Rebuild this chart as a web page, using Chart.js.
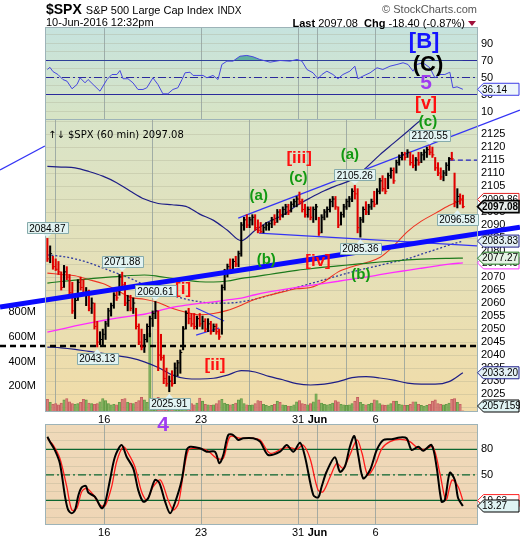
<!DOCTYPE html>
<html>
<head>
<meta charset="utf-8">
<script src="https://cdn.jsdelivr.net/npm/chart.js@4.4.1/dist/chart.umd.min.js"></script>
<style>
  body { margin: 0; background: #fff; width: 520px; height: 540px; overflow: hidden; position: relative; }
  canvas { position: absolute; left: 0; top: 0; }
</style>
</head>
<body>
<canvas id="stoch" width="520" height="540"></canvas>
<canvas id="rsi" width="520" height="540"></canvas>
<canvas id="main" width="520" height="540"></canvas>
<script>
// оси и подписи
const dayTicks = [20.5, 55.5, 90.5, 97.5, 118.5];
const dayLabels = ['16', '23', '31', 'Jun', '6'];
const priceTicks = [2020, 2025, 2030, 2035, 2040, 2045, 2050, 2055, 2060, 2065, 2070, 2075,
  2080, 2085, 2090, 2095, 2100, 2105, 2110, 2115, 2120, 2125, 2130];
const volTicks = [200, 400, 600, 800];
const oscTicks = [0, 10, 20, 30, 40, 50, 60, 70, 80, 90, 100];

// часовые бары $SPX, 11 мая - 10 июня
const highs = [2084.87, 2082, 2078, 2077, 2076, 2072, 2074.5, 2074, 2071, 2068, 2062, 2069, 2070, 2069,
  2066, 2065, 2062, 2060, 2053, 2049, 2050, 2053, 2058, 2060, 2064, 2066, 2071, 2071.88,
  2068, 2063, 2063, 2062, 2058, 2052, 2050, 2048, 2052, 2055, 2057, 2060.61, 2057, 2048,
  2040, 2035, 2032, 2034, 2037, 2038, 2042, 2051, 2057, 2058, 2056, 2056, 2055, 2056,
  2055, 2054, 2054, 2053, 2052, 2052, 2050, 2067, 2073, 2075, 2077, 2077, 2078, 2080,
  2091, 2093, 2094, 2093, 2094, 2094, 2092, 2091, 2090, 2091, 2091, 2093, 2094, 2096,
  2096, 2097, 2098, 2098, 2099, 2100, 2101, 2102.7, 2100, 2098, 2097, 2097, 2097, 2098,
  2093, 2094, 2096, 2097, 2100, 2101, 2101, 2097, 2095, 2098, 2100, 2101, 2104, 2105.26,
  2104, 2093, 2097, 2099, 2098, 2100, 2103, 2104, 2108, 2109, 2108, 2110, 2112, 2112,
  2115, 2117, 2118, 2118, 2119, 2118, 2117, 2116, 2118, 2118, 2119, 2120, 2120.55, 2120,
  2116, 2114, 2112, 2111, 2114, 2116, 2118, 2110, 2104, 2102, 2101.5];
const lows = [2076, 2075.5, 2073, 2072.5, 2071, 2065, 2066, 2069, 2063, 2056, 2054, 2061, 2065, 2063,
  2059, 2057, 2056, 2050, 2043.13, 2044, 2044, 2046, 2051, 2055, 2058, 2061, 2063, 2066,
  2059, 2057, 2057, 2056, 2050, 2044, 2042, 2041, 2045, 2047, 2051, 2054, 2034, 2038,
  2029, 2028, 2025.91, 2028, 2029, 2032, 2033, 2042, 2050, 2052, 2051, 2050, 2050, 2051,
  2050, 2049, 2049, 2048, 2049, 2048, 2046, 2048, 2065, 2070, 2072, 2072, 2074, 2074,
  2078, 2088, 2089, 2089, 2090, 2088, 2087, 2087, 2087, 2088, 2088, 2089, 2090, 2091,
  2092, 2093, 2094, 2094, 2095, 2097, 2097, 2098, 2095, 2093, 2093, 2092, 2091, 2092,
  2086, 2087, 2092, 2093, 2095, 2097, 2096, 2089, 2090, 2093, 2096, 2097, 2099, 2100,
  2087, 2085.36, 2091, 2094, 2094, 2096, 2097, 2098, 2102, 2103, 2102, 2104, 2108, 2106,
  2110, 2113, 2115, 2115, 2116, 2113, 2112, 2111, 2113, 2114, 2115, 2116, 2117, 2116,
  2111, 2109, 2107.5, 2107, 2109, 2111, 2115, 2097, 2096.58, 2098, 2096.6];
const closes = [2077, 2079, 2074, 2073, 2072, 2066, 2072, 2070, 2064, 2057, 2061, 2068, 2066, 2064,
  2064.5, 2058, 2060, 2051, 2045, 2046, 2048, 2052, 2057, 2059, 2063, 2062, 2070, 2067,
  2060, 2061, 2058, 2060, 2051, 2045, 2043, 2046, 2051, 2054, 2056, 2057, 2040, 2039,
  2031, 2029, 2030, 2029, 2035, 2037, 2041, 2050, 2056, 2054, 2052, 2051, 2054, 2052,
  2053, 2050, 2052, 2049, 2051, 2049, 2047, 2066, 2072, 2074, 2073, 2076, 2075, 2079,
  2090, 2092, 2090, 2092, 2093, 2089, 2088, 2087.5, 2089, 2090, 2090.5, 2092, 2091, 2095,
  2094, 2096, 2097, 2095, 2098, 2099, 2100, 2099, 2096, 2094, 2096, 2093, 2096, 2097,
  2087, 2093, 2095, 2096, 2099, 2100, 2097, 2090, 2094, 2097, 2099, 2100, 2103, 2102,
  2089, 2092, 2096, 2095, 2097, 2099, 2098, 2103, 2107, 2104, 2103, 2109, 2111, 2107,
  2114, 2116, 2117, 2116, 2118, 2114, 2113, 2115, 2114, 2117, 2118, 2119, 2118, 2117,
  2112, 2110, 2108.5, 2110, 2113, 2115.5, 2115.48, 2099, 2101, 2100, 2097.08];
// объём, млн
const volumes = [95, 70, 55, 60, 50, 65, 90, 100, 75, 60, 55, 60, 70, 95,
  90, 65, 60, 55, 60, 75, 100, 85, 60, 50, 55, 50, 70, 95,
  100, 70, 65, 60, 70, 85, 110, 90, 70, 630, 65, 60, 110, 100,
  95, 75, 65, 60, 55, 70, 100, 90, 65, 55, 60, 50, 65, 105,
  80, 55, 50, 45, 50, 60, 85, 95, 65, 55, 50, 55, 65, 90,
  100, 60, 50, 45, 50, 60, 85, 80, 55, 45, 40, 45, 55, 80,
  70, 50, 45, 40, 40, 50, 75, 85, 60, 55, 50, 60, 75, 140,
  90, 65, 55, 50, 55, 65, 85, 75, 55, 50, 45, 50, 60, 80,
  110, 70, 55, 50, 55, 65, 90, 85, 60, 50, 45, 50, 60, 80,
  80, 55, 50, 45, 45, 55, 75, 75, 55, 45, 40, 45, 55, 80,
  90, 60, 55, 50, 55, 65, 95, 100, 70, 55, 2.057159];

// скользящие и полосы, снятые каждые 5 баров
const maIdx = [0, 5, 10, 15, 20, 25, 30, 35, 40, 45, 50, 55, 60, 65, 70, 75, 80, 85, 90, 95,
  100, 105, 110, 115, 120, 125, 130, 135, 140, 145, 150];
const upperBand = [2112.6, 2112.3, 2112, 2110.6, 2108.8, 2106.3, 2103, 2100, 2098.3, 2097.8, 2097.2,
  2094.2, 2091.8, 2088, 2084, 2088, 2091.4, 2093.8, 2097.5, 2100.5, 2103.2, 2105.4, 2107.5,
  2112, 2117, 2121.5, 2126, 2130.5, 2134, 2137, 2139];
const midBand = [2078.5, 2078, 2077, 2075.5, 2073.5, 2071.5, 2069.5, 2067, 2065, 2063, 2061.5,
  2060.5, 2060, 2060, 2060.5, 2061.5, 2063, 2064.5, 2066, 2067.5, 2069, 2070.5, 2072, 2073.3,
  2074.5, 2075.8, 2077, 2078.8, 2080.5, 2082.3, 2083.83];
const lowerBand = [2043.1, 2042.8, 2042.2, 2041.4, 2040.7, 2039.8, 2038.9, 2037.4, 2035.2, 2032.4,
  2031, 2030.8, 2031.1, 2032.3, 2034, 2033.5, 2031.8, 2030.5, 2029, 2028.5, 2028.8, 2029.8,
  2031.3, 2031.7, 2031.2, 2030.4, 2029.2, 2028.8, 2028.8, 2029.8, 2033.2];
const redMA = [2071.5, 2071, 2070.5, 2069, 2067.5, 2065, 2062.2, 2061.5, 2060.2, 2058, 2056.5,
  2055.5, 2056, 2057.2, 2059.2, 2061.5, 2063, 2064.3, 2065.5, 2066, 2068.3, 2072, 2074,
  2075.5, 2077.5, 2082, 2087.5, 2091.5, 2094.5, 2097.5, 2099.86];
const greenMA = [2067.7, 2068.3, 2068.8, 2069.3, 2069.8, 2070.2, 2070.6, 2070.8, 2070.3, 2069.5,
  2068.8, 2068.2, 2068.1, 2068.5, 2069.5, 2070.2, 2071, 2071.8, 2072.6, 2073.2, 2073.8, 2074.3,
  2074.8, 2075.3, 2075.8, 2076.2, 2076.6, 2076.9, 2077.1, 2077.2, 2077.27];
const pinkMA = [2048.8, 2050, 2051.2, 2052.3, 2053.3, 2054.2, 2055, 2055.7, 2057, 2058.3, 2059.2,
  2059.9, 2060.5, 2061.2, 2061.9, 2063.2, 2064.3, 2065.2, 2066, 2066.8, 2067.6, 2068.4, 2069.2,
  2070, 2070.9, 2071.8, 2072.6, 2073.4, 2074.2, 2075, 2075.45];

// трендовые линии: [бар, цена]
const thickLine = [[-17.1, 2058.5], [170.6, 2089.2]];
const upperChannel = [[68.9, 2092.7], [170.6, 2134.2]];
const lowerChannel = [[76.4, 2086.9], [170.6, 2081.0]];
const leftLine = [[-17.1, 2111.2], [-0.9, 2120.4]];
const wedgeTop = [[53.7, 2058.1], [63.8, 2053.1]];
const wedgeBottom = [[53.7, 2047.7], [62, 2050.4]];
const supportLine = [[-17.1, 2043.5], [155.1, 2043.5]];
const resistLine = [[145.3, 2115], [155.1, 2115]];

// экстремумы с выносками: [бар, 'high' | 'low']
const peaks = [[0, 'high'], [27, 'high'], [39, 'high'], [18, 'low'], [44, 'low'],
  [111, 'high'], [138, 'high'], [113, 'low'], [148, 'low']];

// RSI(14): [бар, значение]
const rsi = [[0, 59.4], [0.9, 62], [2, 57], [3.8, 53.5], [5.6, 47.6], [7.1, 45.6], [8.9, 36.7],
  [10.7, 41.8], [11.8, 49.6], [13.6, 43.7], [14.7, 47.6], [16.5, 41.8], [19, 33.9], [21.5, 47.6],
  [23.3, 53.5], [25.1, 53.5], [26.2, 58.2], [27.3, 48.5], [29.1, 48.5], [30.9, 43.7], [32.7, 35.9],
  [34.5, 35.9], [35.9, 37.9], [38.1, 49.6], [39.9, 41.8], [41.7, 30.8], [43.5, 30.8], [45.3, 35.9],
  [47.1, 37.9], [48.6, 47.6], [49.7, 55.5], [51.5, 56.2], [52.6, 52.4], [54, 52.4], [56.2, 52.4],
  [57.6, 49.6], [59.8, 52.4], [61.6, 47.6], [63, 65.3], [64.8, 69.2], [67, 69.2], [69.5, 75],
  [72, 75.9], [74.2, 74.4], [76.7, 71.2], [80.4, 68], [84, 70], [87.6, 69.2], [90.1, 71.2],
  [91.9, 69.2], [93.7, 59.4], [95.9, 55.5], [97.7, 48.5], [99.1, 53.5], [100.9, 57.4], [103.1, 53.5],
  [104.9, 48.5], [106.7, 53.5], [109.2, 57.4], [111, 63.3], [112.1, 48.5], [113.9, 51.6], [116.5, 55.5],
  [119, 61.4], [121.1, 59.4], [123.7, 63.3], [126.2, 65.3], [128.4, 67.3], [130.2, 65.3], [132, 57.4],
  [133.4, 65.3], [135.6, 67.3], [138.1, 61.4], [139.9, 49.6], [141.7, 53.5], [143.5, 53.5],
  [145.3, 56.2], [146.4, 37.9], [147.9, 39], [150, 36.14]];

// стохастик %K (чёрный) и %D (красный)
const stochK = [[0, 94.8], [0.9, 89], [2.7, 79], [4.5, 63.5], [6.4, 24], [7.5, 8.6], [8.8, 4.7], [10, 8.6],
  [11.2, 26], [12.4, 35.3], [13.9, 36.8], [14.8, 29], [17.2, 24], [19.6, 10.6], [20.8, 16.5],
  [22.6, 43.9], [24.4, 71.3], [26.8, 85], [28.6, 71.3], [31, 57.6], [32.8, 32], [34.6, 18.4],
  [36.4, 22.4], [38.8, 43.9], [40.4, 40.7], [42.5, 18.4], [44.3, 4.7], [46, 16.5], [48.5, 43.9],
  [50.3, 79.2], [51.5, 83], [55.1, 81.2], [57.5, 77.2], [60.5, 77.2], [62.1, 63.5], [63.5, 73.3],
  [65.3, 96.8], [67.1, 96.8], [68.9, 91], [70.7, 93], [74.3, 93], [76.8, 89], [79.7, 73.3], [84, 77.2],
  [86.4, 85], [88.8, 77.2], [91.2, 87.8], [93, 71.3], [96, 26.2], [97.8, 23.5], [99, 36], [100.8, 53.6],
  [103.8, 70.6], [105.6, 53.6], [107.4, 59.5], [109.2, 83], [110.8, 95.6], [112.2, 73.3], [114, 45.9],
  [116.5, 55.6], [118.9, 79.2], [121.3, 91], [124.3, 91.8], [127.3, 94], [129.7, 93], [131.5, 79.2],
  [133.9, 83], [135.7, 78.4], [138.7, 85], [140.5, 59.5], [142.3, 18.4], [143.5, 20.4], [145.3, 52.5],
  [147.1, 43.9], [148.3, 22.4], [150, 13.27]];
const stochD = [[0, 93], [2.1, 85], [4.5, 69.4], [7, 36], [8.8, 8.6], [10.6, 10.6], [12.4, 30.1],
  [14.2, 34.1], [16.6, 26.2], [19, 14.5], [20.8, 13.3], [23.2, 36], [25, 65.4], [27.4, 83], [29.2, 75.3],
  [31.6, 59.5], [34, 30.1], [35.8, 20.4], [38.2, 36], [40.8, 43.9], [43.6, 20.4], [45.5, 8.6],
  [47.3, 16.5], [49.1, 51.8], [50.9, 79.2], [52.7, 81.2], [57.5, 79.2], [61.1, 69.4], [63.5, 69.4],
  [65.9, 94.8], [69.5, 93], [74.3, 93], [76.8, 91], [80.4, 75.3], [85.1, 81.2], [87.6, 82], [90.1, 80],
  [92.3, 85], [94.8, 69.4], [97.7, 32.1], [99.5, 30.1], [102.1, 47.8], [104.5, 63.5], [106.7, 57.6],
  [109.2, 73.3], [111.8, 91], [113.6, 75.3], [115.7, 49.8], [118.3, 61.5], [120.8, 81.2], [123.7, 89],
  [127.3, 91.8], [130.9, 89], [133.8, 81.2], [136.3, 80], [139.2, 83], [141.7, 51.8], [143.9, 20.4],
  [146.1, 43.9], [148.3, 36], [150, 19.63]];

// волновая разметка (координаты в барах и значениях панели)
const mainNotes = [
  { t: '(c)', x: 137.4, y: 2129.6, c: '#119911', s: 15 },
  { t: '[iii]', x: 90.9, y: 2115.8, c: '#ff1010', s: 17 },
  { t: '(c)', x: 90.6, y: 2108.3, c: '#119911', s: 15 },
  { t: '(a)', x: 109.2, y: 2117, c: '#119911', s: 15 },
  { t: '(a)', x: 76.3, y: 2101.3, c: '#119911', s: 15 },
  { t: '(b)', x: 79, y: 2076.5, c: '#119911', s: 15 },
  { t: '[iv]', x: 97.7, y: 2076, c: '#ff1010', s: 17 },
  { t: '(b)', x: 113.2, y: 2070.8, c: '#119911', s: 15 },
  { t: '[i]', x: 49, y: 2065.4, c: '#ff1010', s: 17 },
  { t: '[ii]', x: 60.5, y: 2036.2, c: '#ff1010', s: 17 },
  { t: '4', x: 41.8, y: 2013, c: '#9f3cf0', s: 21 }
];
const rsiNotes = [
  { t: '[B]', x: 136, y: 91.8, c: '#1515ff', s: 22 },
  { t: '(C)', x: 137.4, y: 64.5, c: '#000', s: 22 },
  { t: '5', x: 136.7, y: 43.5, c: '#9f3cf0', s: 21 },
  { t: '[v]', x: 136.7, y: 18.8, c: '#ff1010', s: 18 }
];

const FONT = '"Liberation Sans", Arial, sans-serif';
Chart.defaults.font.family = FONT;
Chart.defaults.font.size = 11;
Chart.defaults.color = '#000';
Chart.defaults.elements.point.radius = 0;

const pairs = arr => arr.map(p => ({ x: p[0], y: p[1] }));
const sampled = vals => vals.map((v, i) => ({ x: maIdx[i], y: v }));
const isUp = closes.map((c, i) => i > 0 && c > closes[i - 1]);
const last = arr => arr[arr.length - 1];

function xAxis(labels) {
  return {
    type: 'linear', min: -0.5, max: 155.1, offset: false,
    afterBuildTicks: s => { s.ticks = dayTicks.map(v => ({ value: v })); },
    afterFit: s => { s.height = labels ? 16 : 0; },
    ticks: {
      display: labels, autoSkip: false, maxRotation: 0, padding: 2,
      callback: (v, i) => dayLabels[i],
      font: c => ({ family: FONT, size: 11, weight: dayLabels[c.index] === 'Jun' ? 'bold' : 'normal' })
    },
    grid: { color: 'rgba(140,155,155,0.75)', drawTicks: false },
    border: { display: false }
  };
}

function rightAxis(min, max, ticks, show) {
  return {
    position: 'right', min, max,
    afterBuildTicks: s => { s.ticks = ticks.map(v => ({ value: v })); },
    afterFit: s => { s.width = 43; },
    ticks: { padding: 4, autoSkip: false, callback: v => show(v) ? String(v) : '' },
    grid: { color: 'rgba(165,165,140,0.3)', drawTicks: false },
    border: { display: false }
  };
}

function line(data, color, width, extra) {
  return Object.assign({ type: 'line', data, borderColor: color, borderWidth: width, pointRadius: 0, tension: 0 }, extra || {});
}

function panel(top, bottom, notes) {
  return {
    id: 'panel',
    beforeDraw(chart) {
      const { ctx, chartArea: a } = chart;
      const g = ctx.createLinearGradient(0, a.top, 0, a.bottom);
      g.addColorStop(0, top);
      g.addColorStop(1, bottom);
      ctx.save();
      ctx.fillStyle = g;
      ctx.fillRect(a.left, a.top, a.right - a.left, a.bottom - a.top);
      ctx.restore();
    },
    afterDraw(chart) {
      const { ctx, chartArea: a } = chart;
      ctx.save();
      ctx.strokeStyle = '#9db3b8';
      ctx.lineWidth = 1;
      ctx.strokeRect(a.left - 0.5, a.top - 0.5, a.right - a.left + 1, a.bottom - a.top + 1);
      ctx.restore();
      if (notes) notes(chart);
    }
  };
}

function drawNotes(ctx, list, xs, ys) {
  ctx.textAlign = 'center';
  ctx.textBaseline = 'middle';
  list.forEach(n => {
    ctx.font = 'bold ' + n.s + 'px ' + FONT;
    ctx.fillStyle = n.c;
    ctx.fillText(n.t, xs.getPixelForValue(n.x), ys.getPixelForValue(n.y));
  });
}

// ярлык значения справа от панели
function valueTag(ctx, x0, y, text, border, bg, bold) {
  ctx.font = (bold ? 'bold ' : '') + '10px ' + FONT;
  const w = 42, h = 12;
  ctx.beginPath();
  ctx.moveTo(x0 + 0.5, y);
  ctx.lineTo(x0 + 6.5, y - h / 2);
  ctx.lineTo(x0 + w, y - h / 2);
  ctx.lineTo(x0 + w, y + h / 2);
  ctx.lineTo(x0 + 6.5, y + h / 2);
  ctx.closePath();
  ctx.fillStyle = bg;
  ctx.fill();
  ctx.lineWidth = bold ? 1.6 : 1;
  ctx.strokeStyle = border;
  ctx.stroke();
  ctx.fillStyle = '#000';
  ctx.textAlign = 'left';
  ctx.textBaseline = 'middle';
  ctx.fillText(text, x0 + 5, y + 0.5);
}

// выноска к максимуму/минимуму
function callout(ctx, x, yTip, text, down) {
  ctx.font = '10px ' + FONT;
  const w = ctx.measureText(text).width + 5, h = 11;
  const top = down ? yTip - 4 - h : yTip + 4;
  ctx.beginPath();
  ctx.rect(Math.round(x - w / 2) + 0.5, Math.round(top) + 0.5, Math.round(w), h);
  ctx.fillStyle = '#e2f3f2';
  ctx.fill();
  ctx.strokeStyle = '#86abab';
  ctx.lineWidth = 1;
  ctx.stroke();
  ctx.beginPath();
  const edge = down ? top + h + 0.5 : top + 0.5;
  ctx.moveTo(x - 4, edge);
  ctx.lineTo(x, yTip);
  ctx.lineTo(x + 4, edge);
  ctx.closePath();
  ctx.fill();
  ctx.fillStyle = '#000';
  ctx.textAlign = 'center';
  ctx.textBaseline = 'middle';
  ctx.fillText(text, x, top + h / 2 + 1);
}

function mainNotesDraw(chart) {
  const { ctx, scales: { x, y, vol }, chartArea: a } = chart;
  ctx.save();
  ctx.font = '10px "DejaVu Sans"';
  ctx.fillStyle = '#000';
  ctx.textAlign = 'left';
  ctx.textBaseline = 'alphabetic';
  ctx.fillText('\u2191\u2193 $SPX (60 min) ' + last(closes).toFixed(2), a.left + 2, a.top + 18);
  drawNotes(ctx, mainNotes, x, y);
  peaks.forEach(p => {
    const i = p[0], hi = p[1] === 'high';
    const v = hi ? highs[i] : lows[i];
    callout(ctx, x.getPixelForValue(i), y.getPixelForValue(v) + (hi ? -1 : 2), v.toFixed(2), hi);
  });
  const r = a.right;
  valueTag(ctx, r, y.getPixelForValue(last(redMA)), last(redMA).toFixed(2), '#e02020', '#fff');
  valueTag(ctx, r, y.getPixelForValue(last(closes)), last(closes).toFixed(2), '#000', '#e6ebea', true);
  valueTag(ctx, r, y.getPixelForValue(last(midBand)), last(midBand).toFixed(2), '#22228c', '#e3f0f5');
  valueTag(ctx, r, y.getPixelForValue(last(pinkMA)), last(pinkMA).toFixed(2), '#ff30ff', '#fff');
  valueTag(ctx, r, y.getPixelForValue(last(greenMA)), last(greenMA).toFixed(2), '#1e781e', '#e6f3e6');
  valueTag(ctx, r, y.getPixelForValue(last(lowerBand)), last(lowerBand).toFixed(2), '#22228c', '#e3f0f5');
  const vy = Math.min(vol.getPixelForValue(last(volumes)), a.bottom - 5);
  valueTag(ctx, r, vy, String(Math.round(last(volumes) * 1e6)), '#000', '#dff3f3');
  ctx.restore();
}

function rsiNotesDraw(chart) {
  const { ctx, scales: { x, y }, chartArea: a } = chart;
  ctx.save();
  drawNotes(ctx, rsiNotes, x, y);
  valueTag(ctx, a.right, y.getPixelForValue(last(rsi)[1]), last(rsi)[1].toFixed(2), '#3c3ce6', '#eef6fb');
  // шапка графика
  ctx.textAlign = 'left';
  ctx.textBaseline = 'alphabetic';
  ctx.fillStyle = '#000';
  ctx.font = 'bold 14px ' + FONT;
  ctx.fillText('$SPX', 46, 14);
  let px = 46 + ctx.measureText('$SPX').width + 4;
  ctx.font = '11px ' + FONT;
  ctx.fillText('S&P 500 Large Cap Index', px, 14);
  px += ctx.measureText('S&P 500 Large Cap Index').width + 4;
  ctx.font = '10px ' + FONT;
  ctx.fillText('INDX', px, 14);
  ctx.font = '11px ' + FONT;
  ctx.fillText('10-Jun-2016 12:32pm', 46, 26);
  ctx.textAlign = 'right';
  ctx.fillStyle = '#555';
  ctx.fillText('\u00a9 StockCharts.com', 477, 13);
  // Last / Chg
  const parts = [['bold', 'Last '], ['normal', '2097.08  '], ['bold', 'Chg '], ['normal', '-18.40 (-0.87%) ']];
  let total = 9;
  parts.forEach(p => { ctx.font = p[0] + ' 11px ' + FONT; total += ctx.measureText(p[1]).width; });
  px = 477 - total;
  ctx.textAlign = 'left';
  ctx.fillStyle = '#000';
  parts.forEach(p => {
    ctx.font = p[0] + ' 11px ' + FONT;
    ctx.fillText(p[1], px, 27);
    px += ctx.measureText(p[1]).width;
  });
  ctx.fillStyle = '#a0103a';
  ctx.beginPath();
  ctx.moveTo(px, 21); ctx.lineTo(px + 8, 21); ctx.lineTo(px + 4, 26); ctx.closePath();
  ctx.fill();
  ctx.restore();
}

function stochNotesDraw(chart) {
  const { ctx, scales: { y }, chartArea: a } = chart;
  ctx.save();
  valueTag(ctx, a.right, y.getPixelForValue(last(stochD)[1]), last(stochD)[1].toFixed(2), '#ff2020', '#fff');
  valueTag(ctx, a.right, y.getPixelForValue(last(stochK)[1]), last(stochK)[1].toFixed(2), '#000', '#dff3f3');
  ctx.restore();
}

const common = {
  responsive: false, animation: false, events: [],
  plugins: { legend: { display: false }, tooltip: { enabled: false } }
};

// RSI
new Chart(document.getElementById('rsi'), {
  type: 'line',
  data: {
    datasets: [
      line(pairs(rsi), '#4646e0', 1, { fill: { target: { value: 70 }, above: 'rgba(60,160,140,0.75)', below: 'rgba(0,0,0,0)' }, order: 1 }),
      line(pairs([[-0.5, 70], [155.1, 70]]), '#2a2a9c', 1.2, { order: 2 }),
      line(pairs([[-0.5, 30], [155.1, 30]]), '#2a2a9c', 1.2, { order: 2 }),
      line(pairs([[-0.5, 50], [155.1, 50]]), '#2a2a9c', 1.2, { borderDash: [8, 3, 2, 3], order: 2 })
    ]
  },
  options: Object.assign({}, common, {
    layout: { padding: { top: 28, bottom: 420, left: 46, right: 0 } },
    scales: {
      x: xAxis(false),
      y: rightAxis(0, 108.2, oscTicks, v => v % 20 === 10)
    }
  }),
  plugins: [panel('#c6e3de', '#d8e4c4', rsiNotesDraw)]
});

// стохастик
new Chart(document.getElementById('stoch'), {
  type: 'line',
  data: {
    datasets: [
      line(pairs(stochK), '#000', 2, { tension: 0.3, order: 1 }),
      line(pairs(stochD), '#ff1a1a', 1.3, { tension: 0.3, order: 2 }),
      line(pairs([[-0.5, 80], [155.1, 80]]), '#0c6630', 1.3, { order: 3 }),
      line(pairs([[-0.5, 20], [155.1, 20]]), '#0c6630', 1.3, { order: 3 }),
      line(pairs([[-0.5, 50], [155.1, 50]]), '#0c6630', 1.3, { borderDash: [8, 3, 2, 3], order: 3 })
    ]
  },
  options: Object.assign({}, common, {
    layout: { padding: { top: 425, bottom: 0, left: 46, right: 0 } },
    scales: {
      x: xAxis(true),
      y: rightAxis(-7.9, 108.6, oscTicks, v => v === 80 || v === 50)
    }
  }),
  plugins: [panel('#efd9b9', '#efd6b6', stochNotesDraw)]
});

// основная панель: цена, объём, средние
const priceY = rightAxis(2018.5, 2130.4, priceTicks, v => v >= 2025 && v <= 2125);
new Chart(document.getElementById('main'), {
  type: 'line',
  data: {
    datasets: [
      {
        type: 'bar', yAxisID: 'vol', grouped: false, order: 20,
        data: volumes.map((v, i) => ({ x: i, y: v })),
        backgroundColor: isUp.map(u => u ? 'rgba(120,175,90,0.75)' : 'rgba(215,120,120,0.75)'),
        borderColor: isUp.map(u => u ? '#5f9440' : '#c05a5a'),
        borderWidth: 0.6, barThickness: 2.4
      },
      line(sampled(upperBand), '#1e1e86', 1.2, { cubicInterpolationMode: 'monotone', order: 10 }),
      line(sampled(lowerBand), '#1e1e86', 1.2, { cubicInterpolationMode: 'monotone', order: 10 }),
      line(sampled(midBand), '#2e3aa0', 1.3, { borderDash: [2, 2], cubicInterpolationMode: 'monotone', order: 10 }),
      line(sampled(pinkMA), '#ff2cff', 1.3, { cubicInterpolationMode: 'monotone', order: 9 }),
      line(sampled(greenMA), '#1c7a1c', 1.2, { cubicInterpolationMode: 'monotone', order: 9 }),
      line(sampled(redMA), '#ee3322', 1.1, { cubicInterpolationMode: 'monotone', order: 9 }),
      line(pairs(wedgeTop), '#3a3af0', 1.2, { order: 8 }),
      line(pairs(wedgeBottom), '#3a3af0', 1.2, { order: 8 }),
      line(pairs(upperChannel), '#3434f5', 1.3, { clip: false, order: 8 }),
      line(pairs(lowerChannel), '#3434f5', 1.2, { order: 8 }),
      line(pairs(leftLine), '#3434f5', 1.3, { clip: false, order: 8 }),
      line(pairs(supportLine), '#000', 2.5, { borderDash: [6, 4], clip: false, order: 7 }),
      line(pairs(resistLine), '#2020c0', 1.2, { borderDash: [5, 3], order: 7 }),
      {
        type: 'bar', yAxisID: 'y', grouped: false, order: 3,
        data: highs.map((h, i) => ({ x: i, y: [lows[i], h] })),
        backgroundColor: isUp.map(u => u ? '#000' : '#e00000'),
        barThickness: 1.4
      },
      {
        type: 'line', yAxisID: 'y', showLine: false, order: 2,
        data: closes.map((c, i) => ({ x: i, y: c })),
        pointStyle: 'dash', pointRadius: 2,
        pointBorderColor: isUp.map(u => u ? '#000' : '#e00000'), pointBorderWidth: 1
      },
      line(pairs(thickLine), '#0a0aff', 5, { clip: false, order: 1 })
    ]
  },
  options: Object.assign({}, common, {
    layout: { padding: { top: 120, bottom: 113, left: 0, right: 0 } },
    scales: {
      x: xAxis(true),
      y: priceY,
      vol: {
        position: 'left', min: 0, max: 2356,
        afterBuildTicks: s => { s.ticks = volTicks.map(v => ({ value: v })); },
        afterFit: s => { s.width = 46; },
        ticks: { padding: 2, autoSkip: false, callback: v => v + 'M' },
        grid: { display: false },
        border: { display: false }
      }
    }
  }),
  plugins: [panel('#d9e4c8', '#f1dca8', mainNotesDraw)]
});
</script>
</body>
</html>
